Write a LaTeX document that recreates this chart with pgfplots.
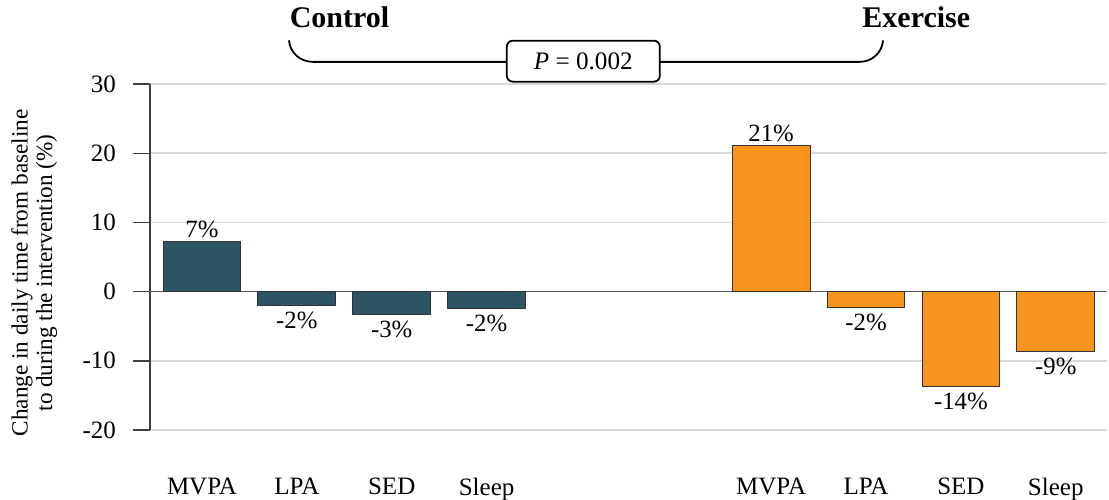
\documentclass[border=0pt]{standalone}
\usepackage{fontspec}
\setmainfont{Liberation Serif}
\usepackage{pgfplots}
\pgfplotsset{compat=1.18}
\definecolor{ctrl}{HTML}{2E5563}
\definecolor{exer}{HTML}{F7941D}
\definecolor{gridc}{HTML}{D9D9D9}
\begin{document}
\begin{tikzpicture}
\begin{axis}[
  at={(0,0)}, anchor=south west,
  scale only axis,
  width=478.5pt, height=173pt,
  xmin=-0.548, xmax=9.54,
  ymin=-20, ymax=30,
  ytick={-20,-10,0,10,20,30},
  xtick={0,1,2,3,6,7,8,9},
  xticklabels={MVPA,LPA,SED,Sleep,MVPA,LPA,SED,Sleep},
  axis y line*=left,
  axis x line*=bottom,
  x axis line style={draw=none},
  y axis line style={draw=black!75, line width=0.7pt},
  xtick style={draw=none},
  ytick style={draw=black!75, line width=0.7pt},
  tick align=outside,
  major tick length=8.5pt,
  ymajorgrids,
  grid style={gridc, line width=0.8pt},
  extra y ticks={0},
  extra y tick labels={},
  extra y tick style={grid style={black!65, line width=0.8pt}, major tick length=0pt},
  /pgf/number format/assume math mode=true,
  tick label style={font=\fontsize{12.5}{14}\selectfont},
  yticklabel style={xshift=-5pt},
  xticklabel style={yshift=-12pt},
  every axis y label/.style={at={(axis description cs:-0.1210,0.454)}, rotate=90, anchor=center, align=center, font=\fontsize{11.6}{12.2}\selectfont},
  ylabel={Change in daily time from baseline\\to during the intervention (\%)},
  ybar, bar width=0.82, bar shift=0pt,
  clip=false,
  nodes near coords={\pgfplotspointmeta\%},
  point meta=explicit symbolic,
  every node near coord/.append style={font=\fontsize{12.4}{14}\selectfont, inner sep=1.5pt},
]
\addplot[fill=ctrl, draw=black!80, line width=0.5pt] table[x=x, y=y, meta=lab] {
x y lab
0 7.2 7
};
\addplot[fill=ctrl, draw=black!80, line width=0.5pt, every node near coord/.append style={anchor=north, inner sep=3pt}] table[x=x, y=y, meta=lab] {
x y lab
1 -2.0 -2
2 -3.3 -3
3 -2.4 -2
};
\addplot[fill=exer, draw=black!80, line width=0.5pt] table[x=x, y=y, meta=lab] {
x y lab
6 21.1 21
};
\addplot[fill=exer, draw=black!80, line width=0.5pt, every node near coord/.append style={anchor=north, inner sep=3pt}] table[x=x, y=y, meta=lab] {
x y lab
7 -2.3 -2
8 -13.7 -14
9 -8.7 -9
};
\draw[line width=0.9pt] (axis cs:0.917,36.3) to[out=-85,in=180] (axis cs:1.17,33.2) -- (axis cs:3.21,33.2);
\draw[line width=0.9pt] (axis cs:4.83,33.2) -- (axis cs:6.93,33.2) to[out=0,in=-95] (axis cs:7.18,36.3);
\node[draw, line width=0.9pt, rounded corners=3pt, minimum width=76.5pt, minimum height=20.5pt, fill=white, font=\fontsize{12.6}{14}\selectfont] at (axis cs:4.02,33.3) {\textit{P} = 0.002};
\node[font=\bfseries\fontsize{15}{17}\selectfont] at (axis cs:1.45,39.6) {Control};
\node[font=\bfseries\fontsize{15}{17}\selectfont] at (axis cs:7.53,39.6) {Exercise};
\end{axis}
\pgfresetboundingbox
\path (-75pt,-34.5pt) rectangle (479.5pt,215pt);
\end{tikzpicture}
\end{document}
